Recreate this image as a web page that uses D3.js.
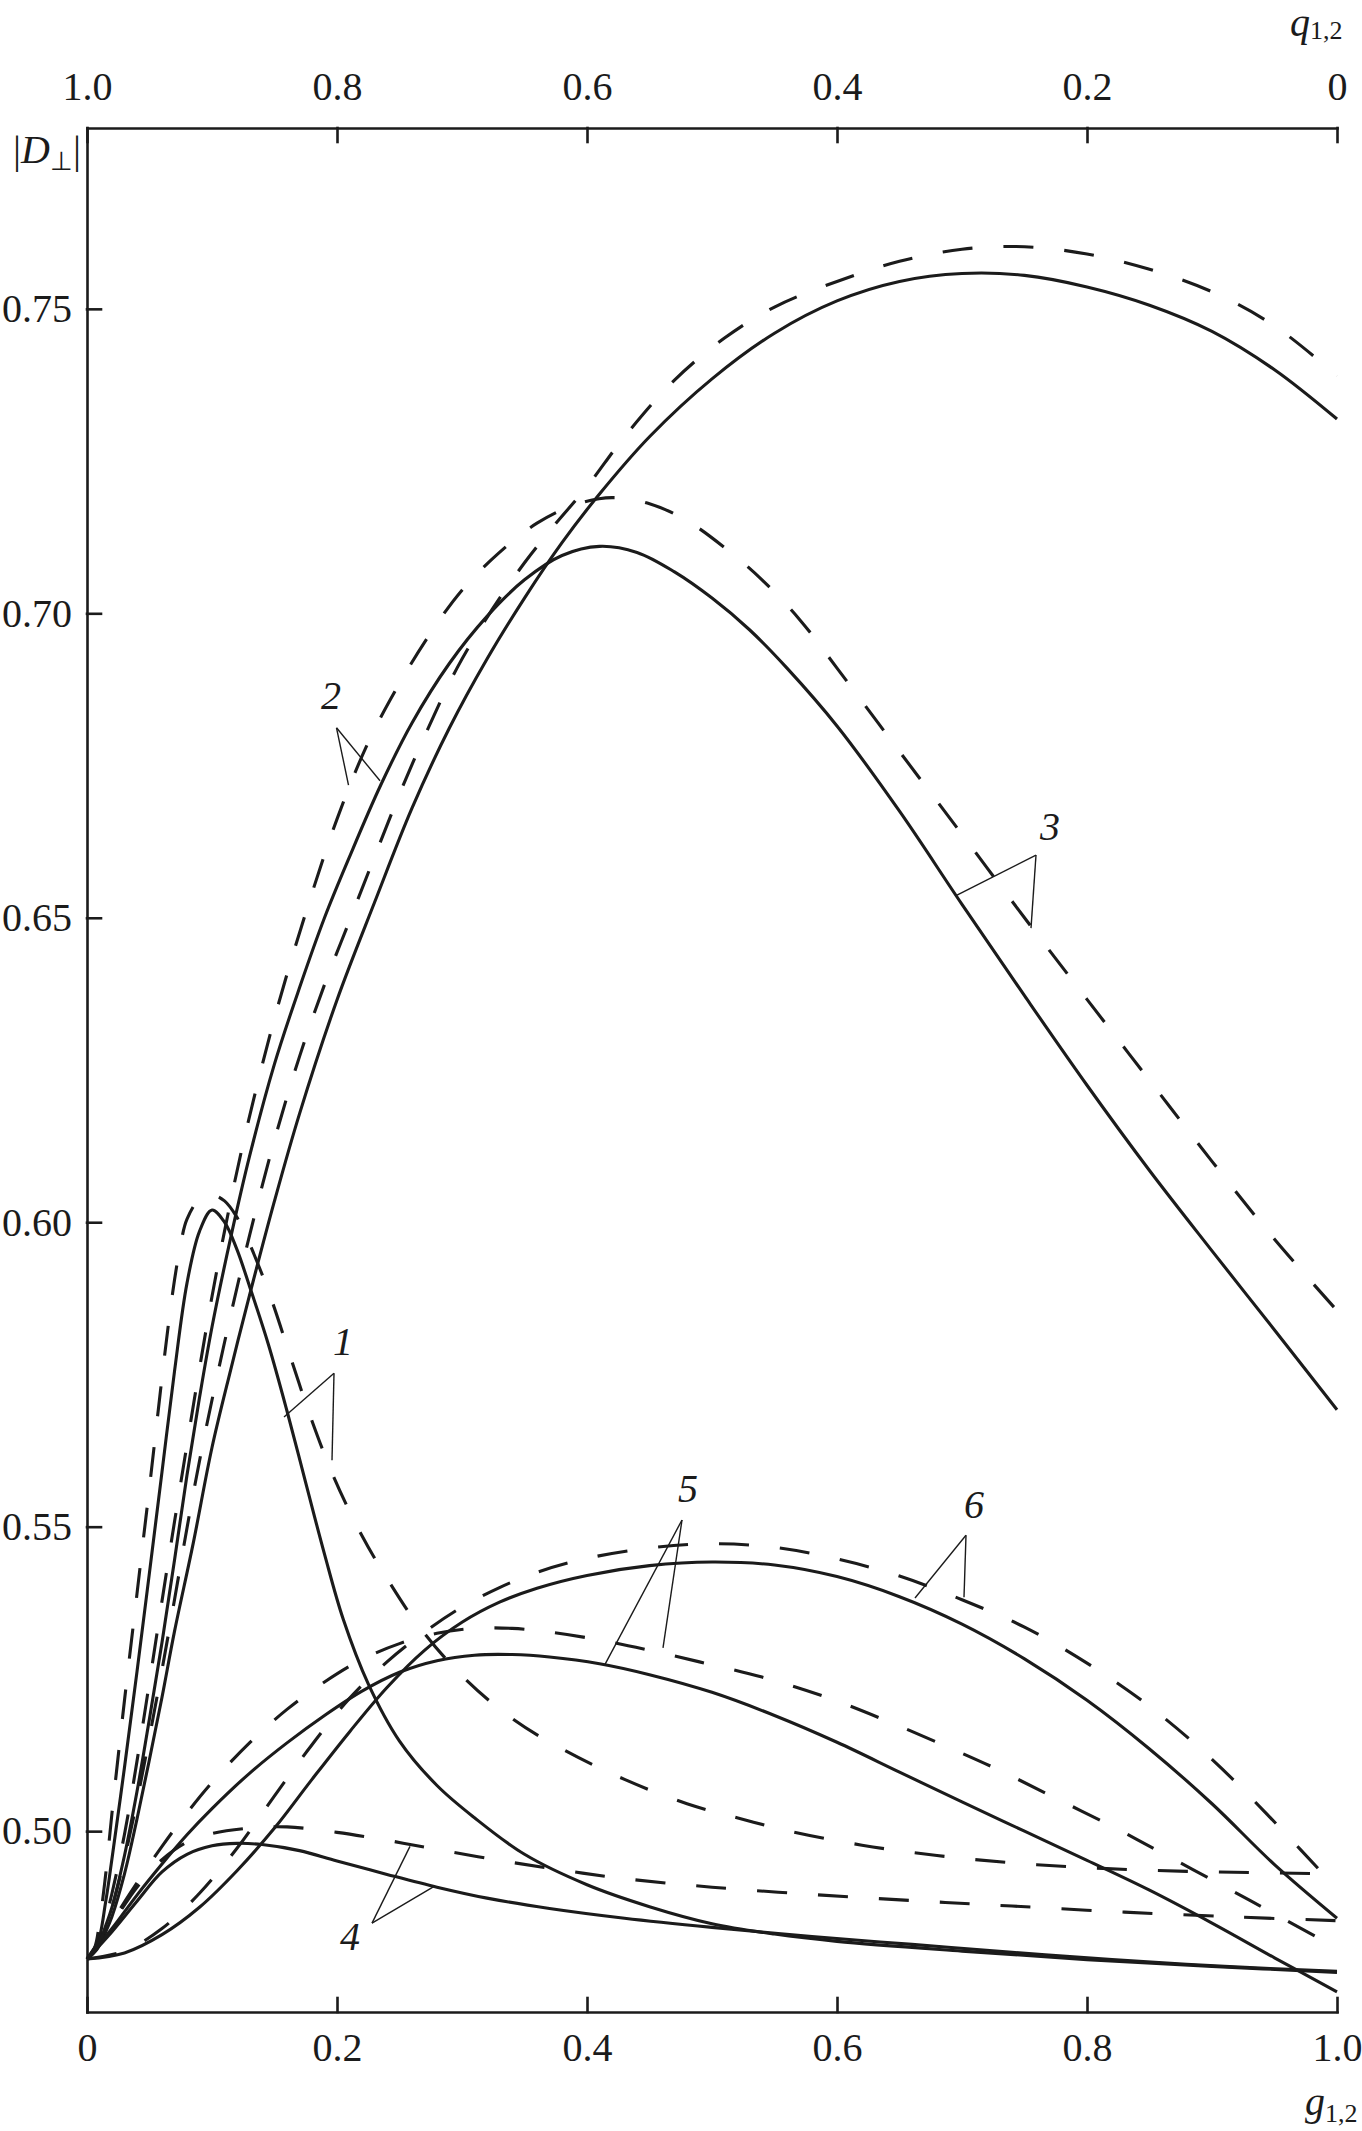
<!DOCTYPE html>
<html>
<head>
<meta charset="utf-8">
<script src="https://cdn.jsdelivr.net/npm/d3@7"></script>
<style>
  body { margin: 0; background: #fff; }
  svg { display: block; background: #fff; }
  text { font-family: "Liberation Serif", "Times New Roman", serif; fill: #1b1b1b; }
  .axis .tick text { font-size: 40px; font-family: "Liberation Serif", "Times New Roman", serif; }
  .axis path, .axis line { stroke: #1b1b1b; stroke-width: 2.6; stroke-linecap: square; }
  .curve { fill: none; stroke: #1b1b1b; stroke-width: 3.1; }
  .curve.dashed { stroke-dasharray: 30 31; }
  .leader { stroke: #1b1b1b; stroke-width: 1.4; fill: none; }
</style>
</head>
<body>
<svg id="chart" width="1362" height="2131"></svg>
<script>
// ticks
const gTicks = [0, 0.2, 0.4, 0.6, 0.8, 1.0];
const gTickLabels = ["0", "0.2", "0.4", "0.6", "0.8", "1.0"];
const qTicks = [1.0, 0.8, 0.6, 0.4, 0.2, 0];
const qTickLabels = ["1.0", "0.8", "0.6", "0.4", "0.2", "0"];
const dTicks = [0.50, 0.55, 0.60, 0.65, 0.70, 0.75];

// curves: [g, |D|]
const curve1Solid = [[0,0.479],[0.008,0.4812],[0.015,0.4885],[0.02,0.4955],[0.03,0.5105],[0.04,0.5262],[0.05,0.5425],[0.06,0.5590],[0.07,0.5755],[0.08,0.5900],[0.09,0.5985],[0.1,0.6020],[0.11,0.6000],[0.12,0.5955],[0.13,0.5895],[0.145,0.5800],[0.16,0.5690],[0.175,0.5572],[0.19,0.5455],[0.205,0.5348],[0.225,0.5242],[0.25,0.5148],[0.28,0.5075],[0.31,0.5022],[0.35,0.4962],[0.40,0.4912],[0.45,0.4876],[0.50,0.4848],[0.55,0.4831],[0.60,0.4819],[0.70,0.4803],[0.80,0.4789],[0.90,0.4778],[1.0,0.4768]];
const curve1Dashed = [[0,0.479],[0.006,0.4808],[0.01,0.4850],[0.015,0.4930],[0.02,0.5030],[0.03,0.5215],[0.04,0.5390],[0.045,0.5478],[0.05,0.5565],[0.055,0.5655],[0.06,0.5745],[0.065,0.5830],[0.07,0.5905],[0.075,0.5965],[0.08,0.6005],[0.09,0.6038],[0.1,0.6045],[0.11,0.6035],[0.12,0.6008],[0.13,0.5965],[0.1467,0.5878],[0.1627,0.5779],[0.1787,0.5681],[0.1973,0.5582],[0.22,0.5485],[0.24,0.5415],[0.265,0.5338],[0.30,0.5255],[0.34,0.5185],[0.38,0.5135],[0.43,0.5085],[0.48,0.5045],[0.52,0.5022],[0.56,0.5001],[0.62,0.4977],[0.68,0.4960],[0.74,0.4948],[0.80,0.4940],[0.88,0.4934],[1.0,0.4930]];
const curve2Solid = [[0,0.479],[0.008,0.4806],[0.015,0.4835],[0.02,0.4860],[0.03,0.4930],[0.04,0.5020],[0.05,0.5118],[0.06,0.5220],[0.07,0.5328],[0.085,0.5473],[0.10,0.5630],[0.115,0.5758],[0.13,0.5880],[0.15,0.6035],[0.17,0.6178],[0.20,0.6365],[0.23,0.6525],[0.26,0.6680],[0.29,0.6812],[0.32,0.6925],[0.35,0.7025],[0.38,0.7116],[0.41,0.7196],[0.45,0.7290],[0.50,0.7385],[0.55,0.7460],[0.60,0.7513],[0.65,0.7545],[0.70,0.7558],[0.75,0.7555],[0.80,0.7536],[0.85,0.7506],[0.90,0.7463],[0.95,0.7400],[1.0,0.7319]];
const curve2Dashed = [[0,0.479],[0.008,0.4808],[0.015,0.4845],[0.02,0.4875],[0.03,0.4955],[0.04,0.5050],[0.05,0.5155],[0.06,0.5265],[0.07,0.5380],[0.08,0.5498],[0.09,0.5608],[0.10,0.5708],[0.115,0.5848],[0.13,0.5978],[0.15,0.6135],[0.17,0.6272],[0.19,0.6390],[0.21,0.6495],[0.23,0.6600],[0.25,0.6703],[0.27,0.6798],[0.296,0.6910],[0.324,0.7006],[0.35,0.7083],[0.372,0.7140],[0.40,0.7208],[0.43,0.7290],[0.47,0.7383],[0.51,0.7452],[0.55,0.7503],[0.60,0.7545],[0.65,0.7578],[0.70,0.7598],[0.75,0.7602],[0.80,0.7590],[0.85,0.7565],[0.90,0.7528],[0.95,0.7472],[1.0,0.7390]];
const curve3Solid = [[0,0.479],[0.008,0.4808],[0.015,0.4845],[0.02,0.4875],[0.03,0.4960],[0.04,0.5065],[0.05,0.5185],[0.06,0.5310],[0.07,0.5445],[0.08,0.5585],[0.09,0.5712],[0.10,0.5828],[0.115,0.5975],[0.13,0.6108],[0.15,0.6260],[0.17,0.6385],[0.19,0.6500],[0.21,0.6600],[0.235,0.6718],[0.26,0.6820],[0.29,0.6918],[0.32,0.6995],[0.35,0.7055],[0.38,0.7095],[0.41,0.7110],[0.44,0.7100],[0.47,0.7068],[0.50,0.7025],[0.53,0.6973],[0.56,0.6910],[0.60,0.6815],[0.65,0.6675],[0.70,0.6522],[0.75,0.6372],[0.80,0.6225],[0.85,0.6085],[0.90,0.5953],[0.95,0.5823],[1.0,0.5692]];
const curve3Dashed = [[0,0.479],[0.008,0.4812],[0.015,0.4858],[0.02,0.4898],[0.03,0.4995],[0.04,0.5115],[0.05,0.5245],[0.06,0.5378],[0.07,0.5508],[0.08,0.5635],[0.09,0.5760],[0.10,0.5878],[0.11,0.5985],[0.125,0.6130],[0.15,0.6335],[0.175,0.6508],[0.20,0.6662],[0.225,0.6788],[0.25,0.6885],[0.275,0.6968],[0.30,0.7038],[0.33,0.7100],[0.36,0.7148],[0.39,0.7178],[0.42,0.7190],[0.45,0.7180],[0.48,0.7152],[0.51,0.7108],[0.54,0.7055],[0.57,0.6990],[0.60,0.6910],[0.65,0.6773],[0.70,0.6637],[0.75,0.6500],[0.80,0.6366],[0.85,0.6233],[0.90,0.6100],[0.95,0.5972],[1.0,0.5855]];
const curve4Solid = [[0,0.479],[0.02,0.4835],[0.04,0.4885],[0.06,0.4933],[0.08,0.4962],[0.10,0.4976],[0.12,0.4980],[0.14,0.4978],[0.17,0.4968],[0.20,0.4951],[0.24,0.4929],[0.28,0.4908],[0.32,0.4890],[0.37,0.4873],[0.43,0.4857],[0.50,0.4842],[0.58,0.4827],[0.66,0.4814],[0.74,0.4801],[0.82,0.4789],[0.91,0.4778],[1.0,0.4770]];
const curve4Dashed = [[0,0.479],[0.02,0.4848],[0.04,0.4908],[0.06,0.4953],[0.08,0.4982],[0.10,0.4996],[0.13,0.5005],[0.16,0.5007],[0.20,0.4998],[0.24,0.4985],[0.28,0.4970],[0.33,0.4952],[0.38,0.4936],[0.43,0.4922],[0.50,0.4908],[0.58,0.4896],[0.66,0.4886],[0.74,0.4877],[0.83,0.4867],[0.92,0.4859],[1.0,0.4853]];
const curve5Solid = [[0,0.479],[0.02,0.4840],[0.04,0.4895],[0.06,0.4946],[0.08,0.4994],[0.10,0.5037],[0.13,0.5095],[0.16,0.5145],[0.19,0.5190],[0.22,0.5230],[0.25,0.5261],[0.28,0.5280],[0.31,0.5289],[0.34,0.5290],[0.37,0.5286],[0.41,0.5275],[0.45,0.5257],[0.50,0.5228],[0.55,0.5190],[0.60,0.5146],[0.65,0.5097],[0.70,0.5048],[0.75,0.5000],[0.80,0.4952],[0.85,0.4903],[0.90,0.4849],[0.95,0.4792],[1.0,0.4736]];
const curve5Dashed = [[0,0.479],[0.02,0.4852],[0.04,0.4915],[0.06,0.4975],[0.08,0.5030],[0.10,0.5080],[0.13,0.5145],[0.16,0.5200],[0.19,0.5245],[0.22,0.5282],[0.25,0.5308],[0.28,0.5325],[0.31,0.5333],[0.34,0.5333],[0.37,0.5327],[0.41,0.5314],[0.45,0.5297],[0.49,0.5278],[0.54,0.5253],[0.59,0.5221],[0.64,0.5181],[0.69,0.5137],[0.73,0.5100],[0.77,0.5059],[0.82,0.5008],[0.86,0.4964],[0.91,0.4909],[0.95,0.4864],[1.0,0.4808]];
const curve6Solid = [[0,0.479],[0.03,0.4800],[0.06,0.4830],[0.09,0.4875],[0.12,0.4935],[0.15,0.5005],[0.18,0.5085],[0.21,0.5163],[0.24,0.5236],[0.27,0.5297],[0.30,0.5343],[0.33,0.5376],[0.36,0.5399],[0.40,0.5420],[0.45,0.5436],[0.50,0.5442],[0.55,0.5437],[0.60,0.5418],[0.65,0.5385],[0.70,0.5340],[0.75,0.5283],[0.80,0.5215],[0.85,0.5135],[0.90,0.5045],[0.95,0.4945],[1.0,0.4857]];
const curve6Dashed = [[0,0.479],[0.03,0.4803],[0.06,0.4840],[0.09,0.4898],[0.12,0.4972],[0.15,0.5058],[0.18,0.5142],[0.21,0.5218],[0.24,0.5278],[0.27,0.5327],[0.30,0.5368],[0.33,0.5400],[0.36,0.5425],[0.40,0.5448],[0.45,0.5465],[0.50,0.5472],[0.55,0.5466],[0.60,0.5447],[0.65,0.5419],[0.70,0.5380],[0.75,0.5335],[0.80,0.5276],[0.85,0.5205],[0.90,0.5118],[0.95,0.5015],[1.0,0.4905]];

// curve numbers and their leader lines, in data units [g, |D|]
const labelText = ["1", "2", "3", "4", "5", "6"];
const labelPos = [[0.2048,0.5782],[0.1952,0.6843],[0.7704,0.6628],[0.2104,0.4805],[0.4808,0.5540],[0.7096,0.5514]];
const leaderApex = [[0.1976,0.5752],[0.1996,0.6812],[0.7592,0.6603],[0.228,0.4849],[0.476,0.5511],[0.7032,0.5486]];
const leaderToSolid = [[0.1576,0.5680],[0.2344,0.6725],[0.696,0.6537],[0.2784,0.4910],[0.4144,0.5274],[0.6624,0.5383]];
const leaderToDashed = [[0.196,0.5609],[0.2092,0.6718],[0.7552,0.6483],[0.2584,0.4975],[0.4608,0.5301],[0.7016,0.5384]];

const series = [
  { data: curve1Solid, dashed: false }, { data: curve1Dashed, dashed: true },
  { data: curve2Solid, dashed: false }, { data: curve2Dashed, dashed: true },
  { data: curve3Solid, dashed: false }, { data: curve3Dashed, dashed: true },
  { data: curve4Solid, dashed: false }, { data: curve4Dashed, dashed: true },
  { data: curve5Solid, dashed: false }, { data: curve5Dashed, dashed: true },
  { data: curve6Solid, dashed: false }, { data: curve6Dashed, dashed: true }
];

const svg = d3.select("#chart");

const x = d3.scaleLinear().domain([0, 1]).range([87, 1337]);
const xq = d3.scaleLinear().domain([1, 0]).range([87, 1337]);
const y = d3.scaleLinear().domain([0.4703, 0.7797]).range([2012, 128]);

// axes
svg.append("g")
  .attr("class", "axis")
  .attr("transform", "translate(0,2012)")
  .call(d3.axisBottom(x).tickValues(gTicks)
    .tickFormat(d => gTickLabels[gTicks.indexOf(d)])
    .tickSizeInner(-14).tickSizeOuter(0).tickPadding(21));

svg.append("g")
  .attr("class", "axis")
  .attr("transform", "translate(0,128)")
  .call(d3.axisTop(xq).tickValues(qTicks)
    .tickFormat(d => qTickLabels[qTicks.indexOf(d)])
    .tickSizeInner(-14).tickSizeOuter(0).tickPadding(28));

svg.append("g")
  .attr("class", "axis")
  .attr("transform", "translate(87,0)")
  .call(d3.axisLeft(y).tickValues(dTicks)
    .tickFormat(d3.format(".2f"))
    .tickSizeInner(-14).tickSizeOuter(0).tickPadding(15));

svg.selectAll(".axis").attr("font-family", null).attr("font-size", null);

// curves
const line = d3.line()
  .x(d => x(d[0]))
  .y(d => y(d[1]))
  .curve(d3.curveCatmullRom.alpha(0.5));

svg.append("g")
  .selectAll("path")
  .data(series)
  .join("path")
    .attr("class", d => d.dashed ? "curve dashed" : "curve")
    .attr("d", d => line(d.data));

// leader lines
const leaders = svg.append("g");
leaderApex.forEach((a, i) => {
  [leaderToSolid[i], leaderToDashed[i]].forEach(b => {
    leaders.append("line")
      .attr("class", "leader")
      .attr("x1", x(a[0])).attr("y1", y(a[1]))
      .attr("x2", x(b[0])).attr("y2", y(b[1]));
  });
});

svg.append("g")
  .selectAll("text")
  .data(labelText)
  .join("text")
    .attr("x", (d, i) => x(labelPos[i][0]))
    .attr("y", (d, i) => y(labelPos[i][1]))
    .attr("text-anchor", "middle")
    .attr("font-size", 40)
    .attr("font-style", "italic")
    .text(d => d);

// axis titles
const yTitle = svg.append("text").attr("x", 13).attr("y", 163).attr("font-size", 40);
yTitle.append("tspan").text("|");
yTitle.append("tspan").attr("font-style", "italic").text("D");
yTitle.append("tspan").attr("font-size", 26).attr("dy", 7).text("\u22A5");
yTitle.append("tspan").attr("dy", -7).text("|");

const qTitle = svg.append("text").attr("x", 1290).attr("y", 36).attr("font-size", 40);
qTitle.append("tspan").attr("font-style", "italic").text("q");
qTitle.append("tspan").attr("font-size", 26).attr("dy", 3).text("1,2");

const gTitle = svg.append("text").attr("x", 1305).attr("y", 2115).attr("font-size", 40);
gTitle.append("tspan").attr("font-style", "italic").text("g");
gTitle.append("tspan").attr("font-size", 26).attr("dy", 7).text("1,2");
</script>
</body>
</html>
